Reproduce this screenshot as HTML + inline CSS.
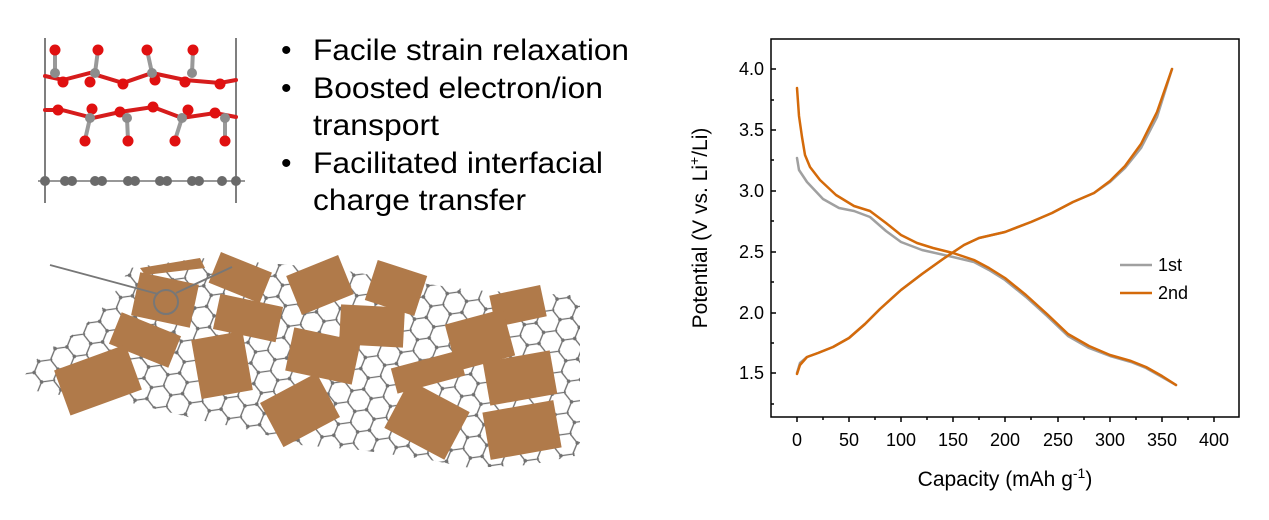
<!DOCTYPE html>
<html><head><meta charset="utf-8"><style>
html,body{margin:0;padding:0;background:#fff;}
body{width:1269px;height:515px;overflow:hidden;font-family:"Liberation Sans",Arial,sans-serif;}
</style></head><body>
<svg width="1269" height="515" viewBox="0 0 1269 515" xmlns="http://www.w3.org/2000/svg" font-family="Liberation Sans, Arial, sans-serif">
<defs>
<pattern id="hex" width="30" height="17.3" patternUnits="userSpaceOnUse" patternTransform="rotate(-8) scale(1.2)">
<path d="M0,8.65 L5,0 L15,0 L20,8.65 L15,17.3 L5,17.3 Z M20,8.65 L30,8.65" fill="none" stroke="#707070" stroke-width="1.1"/>
<circle cx="5" cy="0" r="1.5" fill="#707070"/><circle cx="15" cy="0" r="1.5" fill="#707070"/>
<circle cx="0" cy="8.65" r="1.5" fill="#707070"/><circle cx="20" cy="8.65" r="1.5" fill="#707070"/>
<circle cx="5" cy="17.3" r="1.5" fill="#707070"/><circle cx="15" cy="17.3" r="1.5" fill="#707070"/>
</pattern>
</defs>
<path d="M21,380 L40,355 L80,330 L110,300 L130,268 L200,258 L330,268 L400,280 L470,290 L570,295 L580,300 L580,455 L530,465 L470,468 L430,460 L360,450 L300,445 L250,430 L200,420 L120,400 L60,395 L30,390 Z" fill="url(#hex)"/>
<g fill="#b07a4a">
<polygon points="140,268 200,258 205,268 145,275"/>
<rect x="-30" y="-22" width="60" height="44" transform="translate(165,300) rotate(12)"/>
<rect x="-27" y="-16" width="55" height="33" transform="translate(240,277) rotate(22)"/>
<rect x="-28" y="-21" width="56" height="42" transform="translate(320,285) rotate(-22)"/>
<rect x="-26" y="-21" width="52" height="42" transform="translate(396,288) rotate(18)"/>
<rect x="-26" y="-16" width="52" height="32" transform="translate(518,306) rotate(-12)"/>
<rect x="-32" y="-17" width="64" height="34" transform="translate(145,340) rotate(22)"/>
<rect x="-32" y="-18" width="64" height="36" transform="translate(248,318) rotate(12)"/>
<rect x="-32" y="-20" width="64" height="40" transform="translate(372,326) rotate(3)"/>
<rect x="-30" y="-24" width="60" height="48" transform="translate(480,340) rotate(-15)"/>
<rect x="-38" y="-24" width="76" height="48" transform="translate(98,380) rotate(-20)"/>
<rect x="-26" y="-30" width="52" height="60" transform="translate(222,365) rotate(-10)"/>
<rect x="-34" y="-22" width="68" height="44" transform="translate(323,356) rotate(12)"/>
<rect x="-35" y="-13" width="70" height="26" transform="translate(428,372) rotate(-15)"/>
<rect x="-34" y="-22" width="68" height="44" transform="translate(520,378) rotate(-10)"/>
<rect x="-32" y="-25" width="64" height="50" transform="translate(300,410) rotate(-28)"/>
<rect x="-34" y="-27" width="68" height="54" transform="translate(427,420) rotate(28)"/>
<rect x="-36" y="-24" width="72" height="48" transform="translate(522,430) rotate(-10)"/>
</g>
<circle cx="166" cy="302" r="12" fill="none" stroke="#777" stroke-width="2"/>
<line x1="50" y1="265" x2="158" y2="294" stroke="#777" stroke-width="1.8"/>
<line x1="232" y1="267" x2="176" y2="293" stroke="#777" stroke-width="1.8"/>
<line x1="45" y1="38" x2="45" y2="203" stroke="#555" stroke-width="1.5"/>
<line x1="236" y1="38" x2="236" y2="203" stroke="#555" stroke-width="1.5"/>
<g stroke-width="4" stroke-linecap="round">
<polyline points="45,76 63,80 90,73 123,83 152,73 185,80 220,83 236,80" fill="none" stroke="#d61c1c"/>
<polyline points="45,110 62,110 93,118 120,112 153,107 182,118 215,113 236,117" fill="none" stroke="#d61c1c"/>
<line x1="55" y1="50" x2="55" y2="73" stroke="#999"/><line x1="98" y1="50" x2="95" y2="73" stroke="#999"/>
<line x1="147" y1="50" x2="152" y2="73" stroke="#999"/><line x1="193" y1="50" x2="192" y2="73" stroke="#999"/>
<line x1="90" y1="118" x2="85" y2="140" stroke="#999"/><line x1="127" y1="118" x2="128" y2="140" stroke="#999"/>
<line x1="182" y1="118" x2="175" y2="140" stroke="#999"/><line x1="225" y1="118" x2="225" y2="140" stroke="#999"/>
</g>
<line x1="38" y1="181" x2="245" y2="181" stroke="#777" stroke-width="1.5"/>
<g fill="#e01010">
<circle cx="55" cy="50" r="5.5"/><circle cx="98" cy="50" r="5.5"/><circle cx="147" cy="50" r="5.5"/><circle cx="193" cy="50" r="5.5"/>
<circle cx="63" cy="82" r="5.5"/><circle cx="90" cy="82" r="5.5"/><circle cx="123" cy="84" r="5.5"/><circle cx="155" cy="80" r="5.5"/><circle cx="185" cy="82" r="5.5"/><circle cx="220" cy="84" r="5.5"/>
<circle cx="58" cy="110" r="5.5"/><circle cx="92" cy="109" r="5.5"/><circle cx="120" cy="112" r="5.5"/><circle cx="153" cy="107" r="5.5"/><circle cx="188" cy="110" r="5.5"/><circle cx="215" cy="113" r="5.5"/>
<circle cx="85" cy="141" r="5.5"/><circle cx="128" cy="141" r="5.5"/><circle cx="175" cy="141" r="5.5"/><circle cx="225" cy="141" r="5.5"/>
</g>
<g fill="#8c8c8c">
<circle cx="55" cy="73" r="5"/><circle cx="95" cy="73" r="5"/><circle cx="152" cy="73" r="5"/><circle cx="192" cy="73" r="5"/>
<circle cx="90" cy="118" r="5"/><circle cx="127" cy="118" r="5"/><circle cx="182" cy="118" r="5"/><circle cx="225" cy="118" r="5"/>
</g>
<g fill="#6a6a6a">
<circle cx="45" cy="181" r="5"/><circle cx="65" cy="181" r="5"/><circle cx="72" cy="181" r="5"/><circle cx="95" cy="181" r="5"/><circle cx="102" cy="181" r="5"/>
<circle cx="128" cy="181" r="5"/><circle cx="135" cy="181" r="5"/><circle cx="160" cy="181" r="5"/><circle cx="167" cy="181" r="5"/>
<circle cx="192" cy="181" r="5"/><circle cx="199" cy="181" r="5"/><circle cx="222" cy="181" r="5"/><circle cx="236" cy="181" r="5"/>
</g>
<g font-size="30" fill="#000">
<text x="281" y="60">•</text><text x="313" y="60" textLength="316" lengthAdjust="spacingAndGlyphs">Facile strain relaxation</text>
<text x="281" y="98">•</text><text x="313" y="98" textLength="290" lengthAdjust="spacingAndGlyphs">Boosted electron/ion</text>
<text x="313" y="135" textLength="126" lengthAdjust="spacingAndGlyphs">transport</text>
<text x="281" y="173">•</text><text x="313" y="173" textLength="290" lengthAdjust="spacingAndGlyphs">Facilitated interfacial</text>
<text x="313" y="210" textLength="213" lengthAdjust="spacingAndGlyphs">charge transfer</text>
</g>
<rect x="771" y="39" width="468" height="378" fill="none" stroke="#000" stroke-width="1.5"/>
<g stroke="#000" stroke-width="1.5">
<line x1="797" y1="417" x2="797" y2="422"/><line x1="823" y1="417" x2="823" y2="420"/>
<line x1="849" y1="417" x2="849" y2="422"/><line x1="875" y1="417" x2="875" y2="420"/>
<line x1="901" y1="417" x2="901" y2="422"/><line x1="927" y1="417" x2="927" y2="420"/>
<line x1="953" y1="417" x2="953" y2="422"/><line x1="979" y1="417" x2="979" y2="420"/>
<line x1="1005" y1="417" x2="1005" y2="422"/><line x1="1031" y1="417" x2="1031" y2="420"/>
<line x1="1058" y1="417" x2="1058" y2="422"/><line x1="1084" y1="417" x2="1084" y2="420"/>
<line x1="1110" y1="417" x2="1110" y2="422"/><line x1="1136" y1="417" x2="1136" y2="420"/>
<line x1="1162" y1="417" x2="1162" y2="422"/><line x1="1188" y1="417" x2="1188" y2="420"/>
<line x1="1214" y1="417" x2="1214" y2="422"/>
<line x1="771" y1="69" x2="776" y2="69"/><line x1="771" y1="100" x2="774" y2="100"/>
<line x1="771" y1="130" x2="776" y2="130"/><line x1="771" y1="160" x2="774" y2="160"/>
<line x1="771" y1="191" x2="776" y2="191"/><line x1="771" y1="221" x2="774" y2="221"/>
<line x1="771" y1="252" x2="776" y2="252"/><line x1="771" y1="282" x2="774" y2="282"/>
<line x1="771" y1="313" x2="776" y2="313"/><line x1="771" y1="343" x2="774" y2="343"/>
<line x1="771" y1="373" x2="776" y2="373"/><line x1="771" y1="404" x2="774" y2="404"/>
</g>
<g font-size="18" fill="#000" text-anchor="middle">
<text x="797" y="446">0</text><text x="849" y="446">50</text><text x="901" y="446">100</text><text x="953" y="446">150</text>
<text x="1005" y="446">200</text><text x="1058" y="446">250</text><text x="1110" y="446">300</text><text x="1162" y="446">350</text><text x="1214" y="446">400</text>
</g>
<g font-size="18" fill="#000" text-anchor="end">
<text x="764" y="75">4.0</text><text x="764" y="136">3.5</text><text x="764" y="197">3.0</text>
<text x="764" y="258">2.5</text><text x="764" y="319">2.0</text><text x="764" y="379">1.5</text>
</g>
<text x="1005" y="486" font-size="21" text-anchor="middle">Capacity (mAh g<tspan dy="-8" font-size="14">-1</tspan><tspan dy="8">)</tspan></text>
<text transform="translate(707,228) rotate(-90)" font-size="21" text-anchor="middle">Potential (V vs. Li<tspan dy="-8" font-size="14">+</tspan><tspan dy="8">/Li)</tspan></text>
<g fill="none" stroke-width="2.5" stroke-linejoin="round" stroke-linecap="round">
<polyline stroke="#a0a0a0" points="797,158 799,170 807,182 823,199 839,208 854,211 870,217 886,231 901,242 922,250 953,257 974,262 989,270 1005,280 1026,297 1047,316 1068,336 1089,348 1110,356 1131,362 1146,368 1162,377 1176,385"/>
<polyline stroke="#a0a0a0" points="797,373 800,363 807,357 818,353 833,347 849,338 865,324 880,309 901,290 922,274 943,259 964,245 979,238 1005,232 1031,222 1052,213 1073,202 1094,193 1110,182 1125,168 1141,148 1157,117 1172,69"/>
<polyline stroke="#d46a0a" points="797,88 799,116 802,137 805,155 810,167 820,180 836,195 854,206 870,211 886,223 901,235 917,243 933,248 953,253 974,260 989,268 1005,278 1026,295 1047,314 1068,334 1089,346 1110,355 1131,361 1146,367 1162,376 1176,385"/>
<polyline stroke="#d46a0a" points="797,374 800,365 807,357 818,353 833,347 849,338 865,324 880,309 901,290 922,274 943,259 964,245 979,238 1005,232 1031,222 1052,213 1073,202 1094,193 1110,181 1125,166 1141,144 1157,112 1172,69"/>
</g>
<line x1="1120" y1="265" x2="1152" y2="265" stroke="#a0a0a0" stroke-width="2.5"/>
<line x1="1120" y1="293" x2="1152" y2="293" stroke="#d46a0a" stroke-width="2.5"/>
<text x="1158" y="271" font-size="18">1st</text>
<text x="1158" y="299" font-size="18">2nd</text>
</svg>
</body></html>
